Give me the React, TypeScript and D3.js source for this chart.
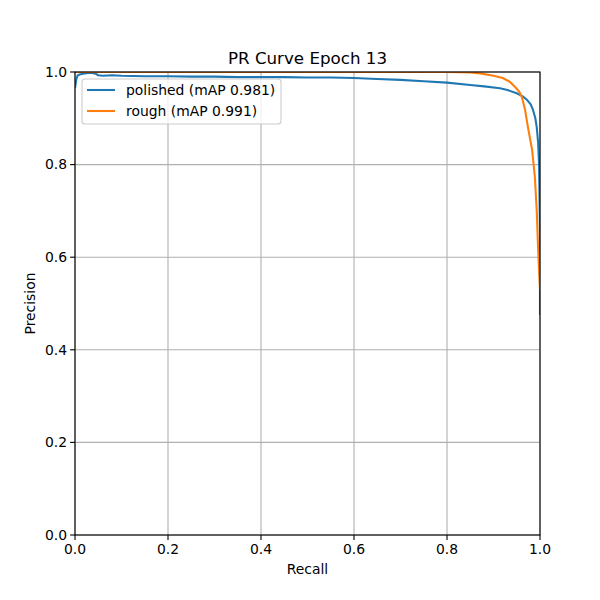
import React from "react";
import * as d3 from "d3";

const title = "PR Curve Epoch 13";
const xLabel = "Recall";
const yLabel = "Precision";
const ticks = [0, 0.2, 0.4, 0.6, 0.8, 1.0];
const seriesNames = ["polished (mAP 0.981)", "rough (mAP 0.991)"];
const seriesColors = ["#1f77b4", "#ff7f0e"];

// polished: [recall, precision]
const polishedRecall = [0, 0.003, 0.006, 0.012, 0.02, 0.03, 0.037, 0.045, 0.05, 0.06, 0.08, 0.1, 0.15, 0.2, 0.25, 0.3, 0.35, 0.4, 0.45, 0.5, 0.55, 0.6, 0.65, 0.7, 0.75, 0.8, 0.85, 0.88, 0.914, 0.93, 0.95, 0.962, 0.972, 0.98, 0.985, 0.99, 0.993, 0.996, 0.998, 1.0, 1.0];
const polishedPrecision = [0.965, 0.985, 0.993, 0.995, 0.997, 0.998, 0.998, 0.996, 0.993, 0.992, 0.993, 0.992, 0.991, 0.991, 0.99, 0.99, 0.989, 0.989, 0.989, 0.988, 0.988, 0.987, 0.985, 0.983, 0.98, 0.977, 0.972, 0.969, 0.965, 0.961, 0.954, 0.948, 0.94, 0.93, 0.918, 0.9, 0.881, 0.847, 0.8, 0.65, 0.475];

const roughRecall = [0, 0.2, 0.4, 0.6, 0.8, 0.85, 0.871, 0.9, 0.92, 0.935, 0.946, 0.955, 0.961, 0.968, 0.974, 0.983, 0.989, 0.993, 0.996, 0.998, 1.0];
const roughPrecision = [1.0, 1.0, 1.0, 1.0, 1.0, 0.999, 0.997, 0.992, 0.987, 0.979, 0.968, 0.958, 0.946, 0.918, 0.881, 0.832, 0.773, 0.7, 0.616, 0.57, 0.53];

export default function App() {
  const W = 600, H = 600;
  const left = 75, right = 540, top = 72, bottom = 535;
  const x = d3.scaleLinear().domain([0, 1]).range([left, right]);
  const y = d3.scaleLinear().domain([0, 1]).range([bottom, top]);
  const line = d3.line<[number, number]>().x(d => x(d[0])).y(d => y(d[1]));
  const polished = polishedRecall.map((r, i) => [r, polishedPrecision[i]] as [number, number]);
  const rough = roughRecall.map((r, i) => [r, roughPrecision[i]] as [number, number]);
  const font = "DejaVu Sans, sans-serif";
  const fmt = d3.format(".1f");

  return (
    <svg width={W} height={H} style={{ position: "absolute", left: 0, top: 0, background: "#fff" }} fontFamily={font}>
      <rect x={0} y={0} width={W} height={H} fill="#fff" />
      <defs>
        <clipPath id="plotclip">
          <rect x={left} y={top} width={right - left} height={bottom - top} />
        </clipPath>
      </defs>
      {ticks.map(t => (
        <g key={"g" + t}>
          <line x1={x(t)} x2={x(t)} y1={top} y2={bottom} stroke="#b0b0b0" strokeWidth={1.1} />
          <line x1={left} x2={right} y1={y(t)} y2={y(t)} stroke="#b0b0b0" strokeWidth={1.1} />
        </g>
      ))}
      <g clipPath="url(#plotclip)">
        <path d={line(polished) || ""} fill="none" stroke={seriesColors[0]} strokeWidth={2.08} strokeLinejoin="round" />
        <path d={line(rough) || ""} fill="none" stroke={seriesColors[1]} strokeWidth={2.08} strokeLinejoin="round" />
      </g>
      <rect x={left} y={top} width={right - left} height={bottom - top} fill="none" stroke="#000" strokeWidth={1.1} />
      {ticks.map(t => (
        <g key={"t" + t}>
          <line x1={x(t)} x2={x(t)} y1={bottom} y2={bottom + 4.9} stroke="#000" strokeWidth={1.1} />
          <text x={x(t)} y={bottom + 19} fontSize={13.9} textAnchor="middle" fill="#000">{fmt(t)}</text>
          <line x1={left - 4.9} x2={left} y1={y(t)} y2={y(t)} stroke="#000" strokeWidth={1.1} />
          <text x={left - 8} y={y(t)} dy="0.35em" fontSize={13.9} textAnchor="end" fill="#000">{fmt(t)}</text>
        </g>
      ))}
      <text x={(left + right) / 2} y={bottom + 39} fontSize={13.9} textAnchor="middle" fill="#000">{xLabel}</text>
      <text transform={`translate(${left - 40},${(top + bottom) / 2}) rotate(-90)`} fontSize={13.9} textAnchor="middle" fill="#000">{yLabel}</text>
      <text x={(left + right) / 2} y={top - 8} fontSize={16.7} textAnchor="middle" fill="#000">{title}</text>
      <g>
        <rect x={82} y={79} width={199} height={45} rx={3} fill="#fff" fillOpacity={0.8} stroke="#cccccc" strokeWidth={1.1} />
        {seriesNames.map((n, i) => (
          <g key={n}>
            <line x1={87} x2={115} y1={90 + i * 21} y2={90 + i * 21} stroke={seriesColors[i]} strokeWidth={2.08} />
            <text x={126} y={90 + i * 21} dy="0.35em" fontSize={13.9} fill="#000">{n}</text>
          </g>
        ))}
      </g>
    </svg>
  );
}
